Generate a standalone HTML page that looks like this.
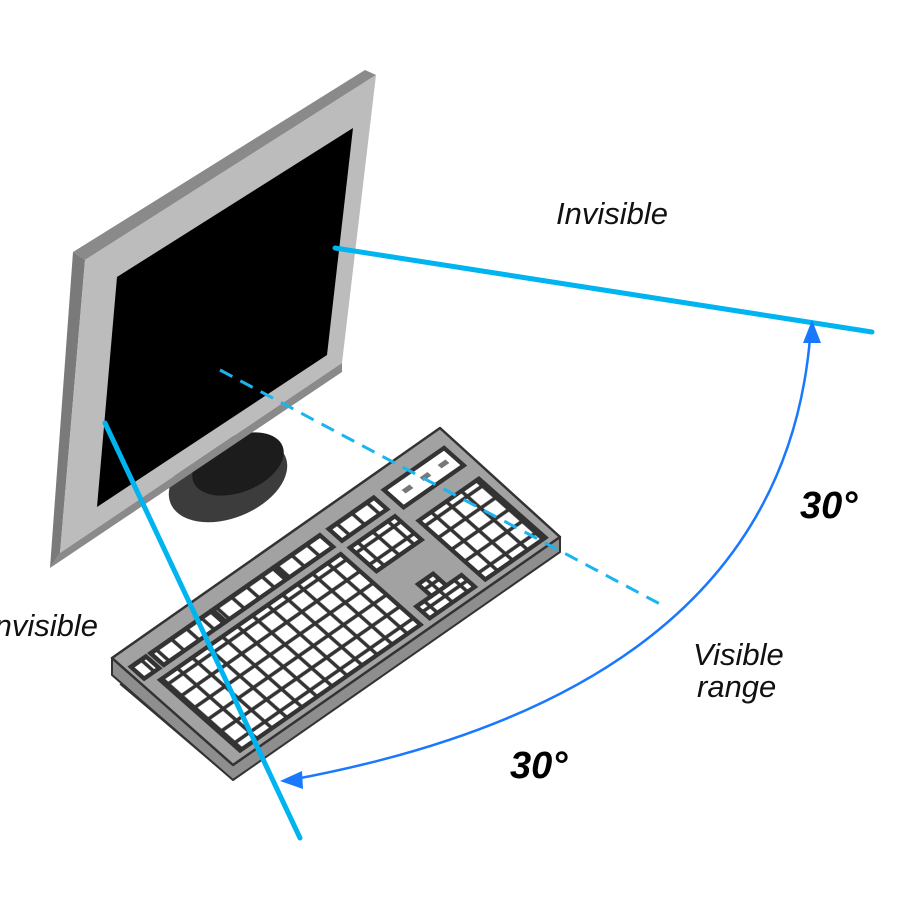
<!DOCTYPE html>
<html><head><meta charset="utf-8"><style>
html,body{margin:0;padding:0;background:#fff;width:900px;height:900px;overflow:hidden}
svg{display:block}
text{font-family:"Liberation Sans",sans-serif}
</style></head><body>
<svg width="900" height="900" viewBox="0 0 900 900" xmlns="http://www.w3.org/2000/svg">
<defs>
<pattern id="keys" patternUnits="userSpaceOnUse" width="4.6" height="4.4">
<rect x="0" y="0" width="4.6" height="4.4" fill="#fff" stroke="#333" stroke-width="0.9"/>
</pattern>
</defs>
<ellipse cx="228" cy="480" rx="62" ry="38" transform="rotate(-22 228 480)" fill="#3c3c3c"/>
<ellipse cx="238" cy="464" rx="48" ry="28" transform="rotate(-22 238 464)" fill="#1c1c1c"/>
<polygon points="73,252 365,70 376,75 85,260" fill="#8a8a8a"/>
<polygon points="73,252 85,260 60,553 50,568" fill="#7a7a7a"/>
<polygon points="85,260 376,75 342,363 60,553" fill="#bcbcbc"/>
<polygon points="60,553 50,568 342,372 342,363" fill="#8a8a8a"/>
<polygon points="117,277 353,128 327,355 97,507" fill="#000"/>
<polygon points="112,658 112,675 233,780 560,552 560,537 233,765" fill="#8e8e8e" stroke="#333" stroke-width="2" stroke-linejoin="round"/>
<line x1="120" y1="684" x2="233" y2="780" stroke="#333" stroke-width="1.5"/>
<polygon points="112,658 440,428 560,537 233,765" fill="#a2a2a2" stroke="#333" stroke-width="2.5" stroke-linejoin="round"/>
<g transform="matrix(3.27,-2.28,-3.025,-2.675,233,765)" stroke="#333" stroke-width="1.1">
<rect x="4" y="2" width="55.2" height="26.4" fill="url(#keys)"/>
<rect x="1.5" y="31" width="4.6" height="4.4" fill="url(#keys)"/>
<rect x="7.5" y="31" width="18.4" height="4.4" fill="url(#keys)"/>
<rect x="26.5" y="31" width="18.4" height="4.4" fill="url(#keys)"/>
<rect x="45.5" y="31" width="13.8" height="4.4" fill="url(#keys)"/>
<rect x="62" y="31" width="13.8" height="4.4" fill="url(#keys)"/>
<rect x="62" y="19.6" width="13.8" height="8.8" fill="url(#keys)"/>
<rect x="62" y="2" width="13.8" height="4.4" fill="url(#keys)"/>
<rect x="66.6" y="6.4" width="4.6" height="4.4" fill="url(#keys)"/>
<rect x="79" y="2" width="18.4" height="22" fill="url(#keys)"/>
<rect x="79" y="29" width="18.4" height="6.5" fill="#fff"/>
<rect x="82" y="31.6" width="2.4" height="1.3" fill="#777" stroke="none"/>
<rect x="87.5" y="31.6" width="2.4" height="1.3" fill="#777" stroke="none"/>
<rect x="93" y="31.6" width="2.4" height="1.3" fill="#777" stroke="none"/>
</g>
<line x1="220" y1="370" x2="660" y2="604" stroke="#1ab4ef" stroke-width="3" stroke-dasharray="14,9"/>
<line x1="335" y1="248" x2="872" y2="332" stroke="#00b4f0" stroke-width="5" stroke-linecap="round"/>
<line x1="105" y1="423" x2="300" y2="838" stroke="#00b4f0" stroke-width="5" stroke-linecap="round"/>
<path d="M290,780 Q780,690 810,338" fill="none" stroke="#1a78ff" stroke-width="2.5"/>
<polygon points="812,320 803,343 821,343" fill="#1a78ff"/>
<polygon points="280,781 302,771 303,789" fill="#1a78ff"/>
<text x="556" y="224" font-size="31" font-style="italic" fill="#111">Invisible</text>
<text x="-14" y="636" font-size="31" font-style="italic" fill="#111">Invisible</text>
<text x="693" y="665" font-size="31" font-style="italic" fill="#111">Visible</text>
<text x="697" y="697" font-size="31" font-style="italic" fill="#111">range</text>
<text x="800" y="518" font-size="38" font-style="italic" font-weight="bold" fill="#000">30°</text>
<text x="510" y="778" font-size="38" font-style="italic" font-weight="bold" fill="#000">30°</text>
</svg>
</body></html>
